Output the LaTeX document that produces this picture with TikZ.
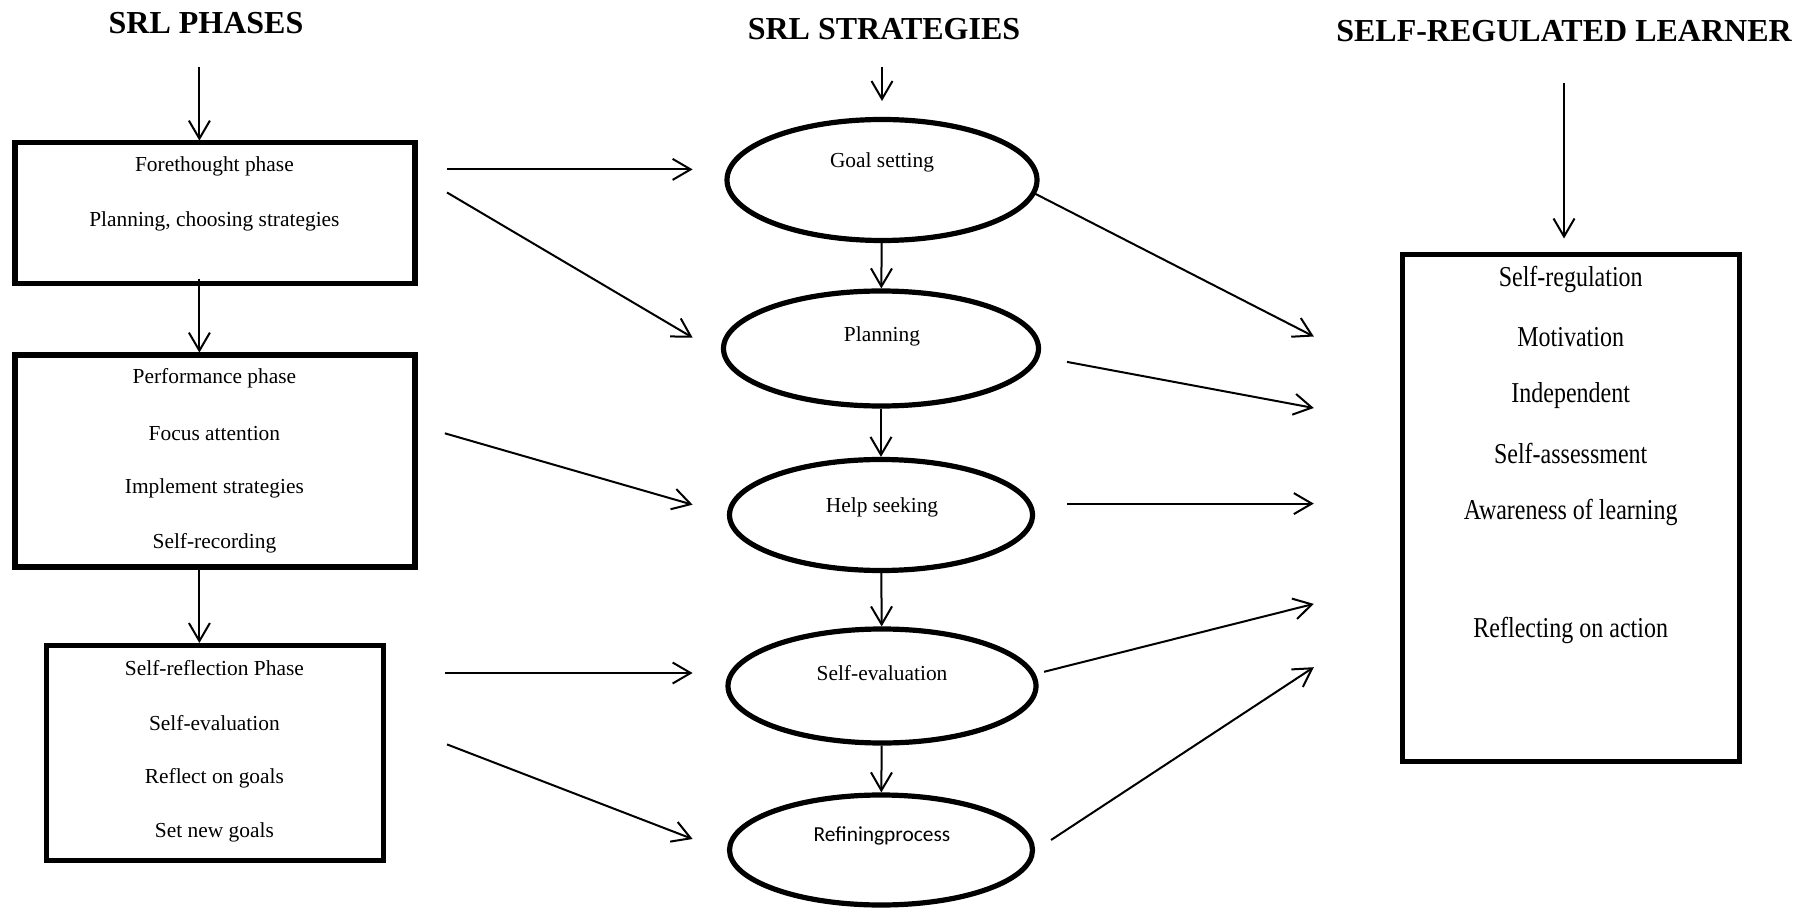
\documentclass[tikz,border=0pt]{standalone}
\usepackage{fontspec}
\setmainfont{Liberation Serif}
\newfontfamily\sansf{Carlito}
\usetikzlibrary{arrows.meta,shapes.geometric}
\tikzset{
  titletext/.style={font=\fontsize{16}{18}\bfseries\selectfont, inner sep=0pt},
  bodytext/.style={font=\fontsize{10.7}{13}\selectfont, inner sep=0pt},
  righttext/.style={font=\fontsize{12}{14}\selectfont, inner sep=0pt, yscale=1.2},
  phasebox/.style={draw, line width=2.7pt, rectangle, inner sep=0pt},
  stratell/.style={draw, line width=2.6pt, ellipse, inner sep=0pt},
  conn/.style={line width=1pt, -{Straight Barb[length=9pt,width=10.5pt]}}
}
\begin{document}
\begin{tikzpicture}[x=0.5pt,y=-0.5pt]
\useasboundingbox (0,0) rectangle (1807,908);
% titles
\node[titletext] (t1) at (206,23) {SRL PHASES};
\node[titletext] (t2) at (884,29) {SRL STRATEGIES};
\node[titletext] (t3) at (1564,31) {SELF-REGULATED LEARNER};
% left boxes
\node[phasebox, minimum width=200pt, minimum height=70.5pt] (b1) at (215,213) {};
\node[phasebox, minimum width=200pt, minimum height=106pt] (b2) at (215,461) {};
\node[phasebox, minimum width=168.5pt, minimum height=107.5pt] (b3) at (215,753) {};
\node[bodytext] (b1a) at (214.4,166) {Forethought phase};
\node[bodytext] (b1b) at (214.4,221) {Planning, choosing strategies};
\node[bodytext] (b2a) at (214.4,378) {Performance phase};
\node[bodytext] (b2b) at (214.4,433.3) {Focus attention};
\node[bodytext] (b2c) at (214.4,488.6) {Implement strategies};
\node[bodytext] (b2d) at (214.4,542.8) {Self-recording};
\node[bodytext] (b3a) at (214.4,668.4) {Self-reflection Phase};
\node[bodytext] (b3b) at (214.4,722.6) {Self-evaluation};
\node[bodytext] (b3c) at (214.4,777.9) {Reflect on goals};
\node[bodytext] (b3d) at (214.4,832) {Set new goals};
% ellipses
\node[stratell, minimum width=155pt, minimum height=60.5pt] (e1) at (882,180) {};
\node[stratell, minimum width=157.5pt, minimum height=57.5pt] (e2) at (881,348.5) {};
\node[stratell, minimum width=151.5pt, minimum height=55.5pt] (e3) at (881,515) {};
\node[stratell, minimum width=154pt, minimum height=57pt] (e4) at (882,686) {};
\node[stratell, minimum width=151.5pt, minimum height=55pt] (e5) at (881,850) {};
\node[bodytext] (e1t) at (882,162) {Goal setting};
\node[bodytext] (e2t) at (882,336) {Planning};
\node[bodytext] (e3t) at (882,507) {Help seeking};
\node[bodytext] (e4t) at (882,673) {Self-evaluation};
\node[bodytext, font=\sansf\fontsize{10.7}{13}\selectfont] (e5t) at (882,836) {Refiningprocess};
% right box
\node[phasebox, minimum width=168.5pt, minimum height=253.5pt] (r) at (1571,508) {};
\node[righttext] (r1) at (1570.7,279) {Self-regulation};
\node[righttext] (r2) at (1570.7,337.6) {Motivation};
\node[righttext] (r3) at (1570.7,395.3) {Independent};
\node[righttext] (r4) at (1570.7,454) {Self-assessment};
\node[righttext] (r5) at (1570.7,512.8) {Awareness of learning};
\node[righttext] (r6) at (1570.7,630.4) {Reflecting on action};
% free ends of connectors
\coordinate (v0s) at (199.4,66.8);
\coordinate (v0e) at (199.4,140.6);
\coordinate (v1s) at (199.4,278.9);
\coordinate (v1e) at (199.4,352.6);
\coordinate (v2s) at (199.4,569.3);
\coordinate (v2e) at (199.4,643);
\coordinate (m0s) at (882,66.8);
\coordinate (m0e) at (882,101);
\coordinate (rs) at (1564,83);
\coordinate (re) at (1564,238.5);
\coordinate (a1s) at (447,169.4);   \coordinate (a1e) at (692.6,169.4);
\coordinate (a2s) at (447,192.5);   \coordinate (a2e) at (692.6,337.6);
\coordinate (a3s) at (444.8,433.3); \coordinate (a3e) at (692.6,504.7);
\coordinate (a4s) at (444.8,673);   \coordinate (a4e) at (692.6,673);
\coordinate (a5s) at (447,744.4);   \coordinate (a5e) at (692.6,839);
\coordinate (c1s) at (1034.9,193.6); \coordinate (c1e) at (1313.8,336.5);
\coordinate (c2s) at (1067,361.9);   \coordinate (c2e) at (1313.8,408);
\coordinate (c3s) at (1067,503.6);   \coordinate (c3e) at (1313.8,503.6);
\coordinate (c4s) at (1044,671.8);   \coordinate (c4e) at (1313.8,603.9);
\coordinate (c5s) at (1051,840);     \coordinate (c5e) at (1313.8,667.2);
% connectors
\draw[conn] (v0s) -- (v0e);
\draw[conn] (v1s) -- (v1e);
\draw[conn] (v2s) -- (v2e);
\draw[conn] (m0s) -- (m0e);
\draw[conn] (rs) -- (re);
\draw[conn] (e1) -- (e2);
\draw[conn] (e2) -- (e3);
\draw[conn] (e3) -- (e4);
\draw[conn] (e4) -- (e5);
\draw[conn] (a1s) -- (a1e);
\draw[conn] (a2s) -- (a2e);
\draw[conn] (a3s) -- (a3e);
\draw[conn] (a4s) -- (a4e);
\draw[conn] (a5s) -- (a5e);
\draw[conn] (c1s) -- (c1e);
\draw[conn] (c2s) -- (c2e);
\draw[conn] (c3s) -- (c3e);
\draw[conn] (c4s) -- (c4e);
\draw[conn] (c5s) -- (c5e);
\end{tikzpicture}
\end{document}
